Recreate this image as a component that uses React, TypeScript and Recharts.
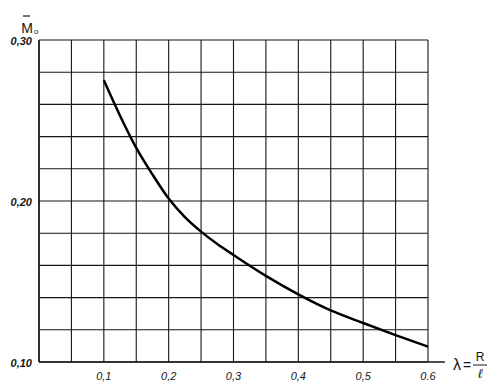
import { LineChart, Line, XAxis, YAxis, CartesianGrid, ReferenceLine, Label } from 'recharts';

// λ = R / ℓ
const lambdaValues = [0.1, 0.125, 0.15, 0.175, 0.2, 0.225, 0.25, 0.275, 0.3, 0.35, 0.4, 0.45, 0.5, 0.55, 0.6];
// M̄o
const momentValues = [0.275, 0.253, 0.233, 0.2165, 0.2015, 0.19, 0.181, 0.1733, 0.1665, 0.1535, 0.142, 0.132, 0.1242, 0.1167, 0.1095];

const xTicks = [0, 0.05, 0.1, 0.15, 0.2, 0.25, 0.3, 0.35, 0.4, 0.45, 0.5, 0.55, 0.6];
const xTickLabels: Record<string, string> = { '0.1': '0,1', '0.2': '0,2', '0.3': '0,3', '0.4': '0,4', '0.5': '0,5', '0.6': '0.6' };
const yTicks = [0.1, 0.12, 0.14, 0.16, 0.18, 0.2, 0.22, 0.24, 0.26, 0.28, 0.3];
const yTickLabels: Record<string, string> = { '0.1': '0,10', '0.2': '0,20', '0.3': '0,30' };

const data = lambdaValues.map((l, i) => ({ lambda: l, m: momentValues[i] }));

const ink = '#161616';
const font = '"Liberation Sans", Arial, sans-serif';

const XTick = (props: any) => {
    const { x, y, payload } = props;
    const txt = xTickLabels[String(payload.value)];
    if (!txt) return null;
    return (
        <text x={x} y={y + 6} textAnchor="middle" dominantBaseline="central" fontFamily={font} fontSize={11} fontStyle="italic" fill={ink}>
            {txt}
        </text>
    );
};

const YTick = (props: any) => {
    const { x, y, payload } = props;
    const txt = yTickLabels[String(Math.round(payload.value * 100) / 100)];
    if (!txt) return null;
    return (
        <text x={x + 1} y={y + 1} textAnchor="end" dominantBaseline="central" fontFamily={font} fontSize={11} fontStyle="italic" fontWeight={600} fill={ink}>
            {txt}
        </text>
    );
};

const XTitle = (props: any) => {
    const { viewBox } = props;
    const x0 = viewBox.x + viewBox.width + 25;
    const y0 = viewBox.y;
    return (
        <g fill={ink} fontFamily={font}>
            <text x={x0} y={y0 + 8} fontSize={16}>λ</text>
            <text x={x0 + 10} y={y0 + 8} fontSize={14}>=</text>
            <text x={x0 + 27} y={y0 - 1} fontSize={12} textAnchor="middle">R</text>
            <line x1={x0 + 20} x2={x0 + 34} y1={y0 + 3} y2={y0 + 3} stroke={ink} strokeWidth={1} />
            <text x={x0 + 27} y={y0 + 16} fontSize={13} fontStyle="italic" textAnchor="middle">ℓ</text>
        </g>
    );
};

const YTitle = (props: any) => {
    const { viewBox } = props;
    const x0 = viewBox.x + 27;
    const y0 = viewBox.y - 7;
    return (
        <g fill={ink} fontFamily={font}>
            <line x1={x0 - 4} x2={x0 + 3} y1={y0 - 17} y2={y0 - 17} stroke={ink} strokeWidth={1.2} />
            <text x={x0} y={y0} fontSize={14} textAnchor="middle">M</text>
            <text x={x0 + 7} y={y0 + 1} fontSize={8}>o</text>
        </g>
    );
};

export default function App() {
    return (
        <div style={{ position: 'absolute', left: 0, top: 0, width: 498, height: 392, background: '#fff' }}>
            <LineChart width={498} height={392} data={data} margin={{ top: 40, right: 70, left: 0, bottom: 0 }}>
                <CartesianGrid stroke={ink} strokeWidth={1.1} />
                <XAxis
                    dataKey="lambda"
                    type="number"
                    domain={[0, 0.6]}
                    ticks={xTicks}
                    interval={0}
                    height={30}
                    tickLine={false}
                    axisLine={{ stroke: ink, strokeWidth: 1.5 }}
                    tick={<XTick />}
                >
                    <Label content={<XTitle />} />
                </XAxis>
                <YAxis
                    type="number"
                    domain={[0.1, 0.3]}
                    ticks={yTicks}
                    interval={0}
                    width={39}
                    tickLine={false}
                    axisLine={{ stroke: ink, strokeWidth: 1.5 }}
                    tick={<YTick />}
                >
                    <Label content={<YTitle />} />
                </YAxis>
                <ReferenceLine
                    segment={[{ x: 0.6, y: 0.1 }, { x: 0.626, y: 0.1 }]}
                    ifOverflow="visible"
                    stroke={ink}
                    strokeWidth={1.5}
                />
                <Line
                    type="monotone"
                    dataKey="m"
                    stroke="#000"
                    strokeWidth={2.5}
                    dot={false}
                    isAnimationActive={false}
                />
            </LineChart>
        </div>
    );
}
